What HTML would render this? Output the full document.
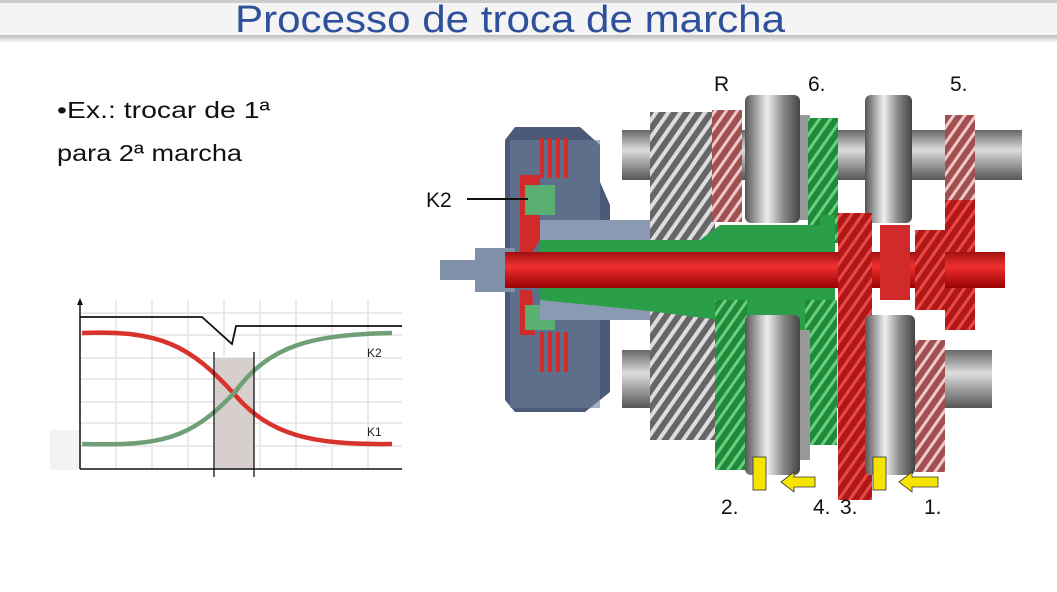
<!DOCTYPE html>
<html><head><meta charset="utf-8"><style>
body{margin:0;background:#fff;}
svg{display:block;font-family:"Liberation Sans",sans-serif;}
</style></head><body>
<svg width="1057" height="592" viewBox="0 0 1057 592" xmlns="http://www.w3.org/2000/svg">
<defs>
<linearGradient id="hs" x1="0" y1="0" x2="0" y2="1"><stop offset="0" stop-color="#bbb"/><stop offset="1" stop-color="#fff"/></linearGradient>
<linearGradient id="metal" x1="0" y1="0" x2="1" y2="0"><stop offset="0" stop-color="#555"/><stop offset="0.4" stop-color="#eee"/><stop offset="0.7" stop-color="#888"/><stop offset="1" stop-color="#444"/></linearGradient>
<linearGradient id="shaft" x1="0" y1="0" x2="0" y2="1"><stop offset="0" stop-color="#666"/><stop offset="0.4" stop-color="#ddd"/><stop offset="1" stop-color="#555"/></linearGradient>
<linearGradient id="redsh" x1="0" y1="0" x2="0" y2="1"><stop offset="0" stop-color="#a01010"/><stop offset="0.4" stop-color="#f03030"/><stop offset="1" stop-color="#900"/></linearGradient>
<pattern id="teeth" width="10" height="10" patternUnits="userSpaceOnUse" patternTransform="rotate(35)"><rect width="10" height="10" fill="#666"/><rect width="4" height="10" fill="#ddd"/></pattern>
<pattern id="rteeth" width="9" height="9" patternUnits="userSpaceOnUse" patternTransform="rotate(35)"><rect width="9" height="9" fill="#b01818"/><rect width="3" height="9" fill="#e84848"/></pattern>
<pattern id="gteeth" width="9" height="9" patternUnits="userSpaceOnUse" patternTransform="rotate(35)"><rect width="9" height="9" fill="#1e8a3a"/><rect width="3" height="9" fill="#6ccf80"/></pattern>
<pattern id="pteeth" width="9" height="9" patternUnits="userSpaceOnUse" patternTransform="rotate(35)"><rect width="9" height="9" fill="#a05050"/><rect width="3" height="9" fill="#f0c8c8"/></pattern>
</defs>
<rect x="0" y="0" width="1057" height="3" fill="#ccc"/>
<rect x="0" y="3" width="1057" height="33" fill="#f4f4f4"/>
<rect x="0" y="35" width="1057" height="8" fill="url(#hs)"/>
<text x="235" y="32" font-size="38" fill="#2f519c" textLength="550" lengthAdjust="spacingAndGlyphs">Processo de troca de marcha</text>
<text x="57" y="118" font-size="23" fill="#111" textLength="213" lengthAdjust="spacingAndGlyphs">•Ex.: trocar de 1ª</text>
<text x="57" y="161" font-size="23" fill="#111" textLength="185" lengthAdjust="spacingAndGlyphs">para 2ª marcha</text>

<!-- chart -->
<rect x="50" y="430" width="30" height="40" fill="#f3f3f3"/>
<g stroke="#e4e4e4" stroke-width="1.5">
<line x1="116" y1="300" x2="116" y2="468"/><line x1="152" y1="300" x2="152" y2="468"/><line x1="188" y1="300" x2="188" y2="468"/><line x1="224" y1="300" x2="224" y2="468"/><line x1="260" y1="300" x2="260" y2="468"/><line x1="296" y1="300" x2="296" y2="468"/><line x1="332" y1="300" x2="332" y2="468"/><line x1="368" y1="300" x2="368" y2="468"/>
<line x1="80" y1="313" x2="402" y2="313"/><line x1="80" y1="335" x2="402" y2="335"/><line x1="80" y1="358" x2="402" y2="358"/><line x1="80" y1="379" x2="402" y2="379"/><line x1="80" y1="402" x2="402" y2="402"/><line x1="80" y1="423" x2="402" y2="423"/><line x1="80" y1="446" x2="402" y2="446"/>
</g>
<rect x="215" y="358" width="39" height="111" fill="#d6cfcd"/>
<line x1="80" y1="302" x2="80" y2="469" stroke="#111" stroke-width="1.5"/>
<polygon points="77,305 80,298 83,305" fill="#111"/>
<line x1="80" y1="469" x2="402" y2="469" stroke="#111" stroke-width="1.5"/>
<polyline points="80,317 202,317 232,344 236,326 402,326" fill="none" stroke="#111" stroke-width="1.8"/>
<path d="M82,333 C160,330 190,345 235,395 C270,435 310,445 392,444" fill="none" stroke="#d8322c" stroke-width="4.5"/>
<path d="M82,444 C160,446 190,440 235,392 C270,345 310,335 392,333" fill="none" stroke="#6f9f76" stroke-width="4.5"/>
<line x1="214" y1="352" x2="214" y2="477" stroke="#111" stroke-width="1.3"/>
<line x1="254" y1="352" x2="254" y2="477" stroke="#111" stroke-width="1.3"/>
<text x="367" y="357" font-size="12" fill="#222">K2</text>
<text x="367" y="436" font-size="12" fill="#222">K1</text>

<!-- gearbox -->
<rect x="622" y="130" width="400" height="50" fill="url(#shaft)"/>
<rect x="622" y="350" width="370" height="58" fill="url(#shaft)"/>
<path d="M505,140 L515,127 L580,127 L600,145 L600,182 L610,205 L610,392 L585,412 L515,412 L505,400 Z" fill="#4a5a78"/>
<rect x="510" y="140" width="90" height="268" fill="#6d7d9a" opacity="0.6"/>
<g fill="#d02a2a">
<rect x="540" y="138" width="4" height="40"/><rect x="548" y="138" width="4" height="40"/><rect x="556" y="138" width="4" height="40"/><rect x="564" y="138" width="4" height="40"/>
<rect x="540" y="332" width="4" height="40"/><rect x="548" y="332" width="4" height="40"/><rect x="556" y="332" width="4" height="40"/><rect x="564" y="332" width="4" height="40"/>
</g>
<path d="M520,175 L540,175 L540,240 L530,255 L520,255 Z" fill="#d02a2a"/>
<path d="M520,290 L532,290 L535,335 L520,335 Z" fill="#d02a2a"/>
<rect x="525" y="185" width="30" height="30" fill="#5ab070"/>
<rect x="525" y="305" width="30" height="25" fill="#5ab070"/>
<rect x="540" y="220" width="130" height="28" fill="#8a9ab2"/>
<rect x="540" y="292" width="130" height="28" fill="#8a9ab2"/>
<rect x="440" y="260" width="80" height="20" fill="#8090a8"/>
<rect x="475" y="248" width="40" height="44" fill="#8090a8"/>
<rect x="650" y="112" width="65" height="140" fill="url(#teeth)"/>
<rect x="650" y="295" width="65" height="145" fill="url(#teeth)"/>
<rect x="712" y="110" width="30" height="112" fill="url(#pteeth)"/>
<rect x="745" y="95" width="55" height="128" rx="6" fill="url(#metal)"/>
<rect x="800" y="115" width="10" height="105" fill="#999"/>
<rect x="808" y="118" width="30" height="125" fill="url(#gteeth)"/>
<rect x="865" y="95" width="47" height="128" rx="6" fill="url(#metal)"/>
<rect x="945" y="115" width="30" height="215" fill="url(#pteeth)"/>
<rect x="945" y="200" width="30" height="130" fill="url(#rteeth)"/>
<path d="M540,240 L700,240 L720,225 L820,225 L820,215 L835,215 L835,340 L740,340 L720,320 L640,310 L540,300 Z" fill="#2a9e48"/>
<rect x="715" y="300" width="32" height="170" fill="url(#gteeth)"/>
<rect x="805" y="300" width="32" height="145" fill="url(#gteeth)"/>
<rect x="505" y="252" width="500" height="36" fill="url(#redsh)"/>
<rect x="838" y="213" width="34" height="287" fill="url(#rteeth)"/>
<rect x="880" y="225" width="30" height="75" fill="#d02a2a"/>
<rect x="915" y="230" width="30" height="80" fill="url(#rteeth)"/>
<rect x="745" y="315" width="55" height="160" rx="6" fill="url(#metal)"/>
<rect x="800" y="330" width="10" height="130" fill="#999"/>
<rect x="865" y="315" width="50" height="160" rx="6" fill="url(#metal)"/>
<rect x="915" y="340" width="30" height="132" fill="url(#pteeth)"/>
<rect x="753" y="457" width="13" height="33" fill="#f5e400" stroke="#333" stroke-width="0.8"/>
<rect x="873" y="457" width="13" height="33" fill="#f5e400" stroke="#333" stroke-width="0.8"/>
<polygon points="781,482 794,472 794,477 815,477 815,487 794,487 794,492" fill="#f5e400" stroke="#333" stroke-width="0.8"/>
<polygon points="899,482 912,472 912,477 938,477 938,487 912,487 912,492" fill="#f5e400" stroke="#333" stroke-width="0.8"/>
<line x1="467" y1="199" x2="528" y2="199" stroke="#111" stroke-width="2"/>
<g font-size="21" fill="#111">
<text x="426" y="207">K2</text>
<text x="714" y="91">R</text>
<text x="808" y="91">6.</text>
<text x="950" y="91">5.</text>
<text x="721" y="514">2.</text>
<text x="813" y="514">4.</text>
<text x="840" y="514">3.</text>
<text x="924" y="514">1.</text>
</g>
</svg>
</body></html>
